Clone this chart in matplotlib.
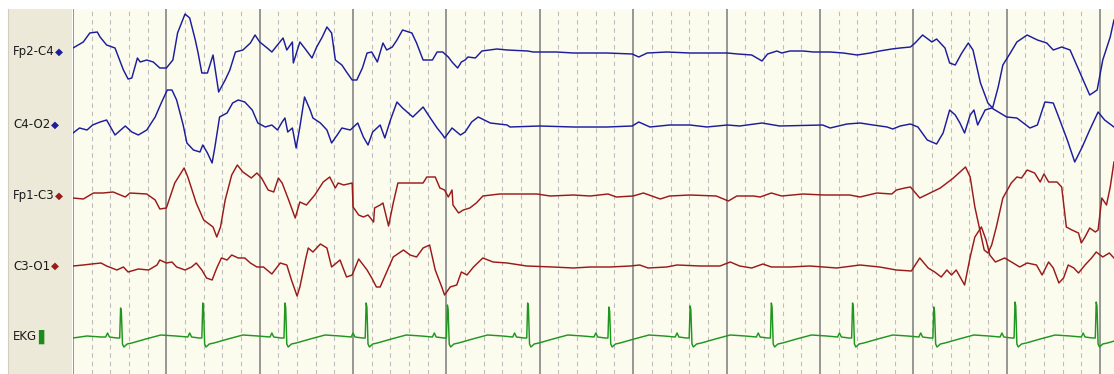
import matplotlib.pyplot as plt

# EEG page: 11.15 s shown, one solid line per second, dashed every 0.2 s
# times in seconds from page start, amplitudes in uV relative to the channel baseline
channels = ['Fp2-C4', 'C4-O2', 'Fp1-C3', 'C3-O1', 'EKG']

fp2_c4_t = [0.00, 0.11, 0.18, 0.26, 0.29, 0.36, 0.45, 0.54, 0.59, 0.63, 0.69, 0.72, 0.79, 0.86, 0.93,
            1.00, 1.07, 1.12, 1.20, 1.25, 1.31, 1.34, 1.38, 1.44, 1.50, 1.56, 1.63, 1.68, 1.74, 1.82,
            1.90, 1.95, 2.00, 2.08, 2.13, 2.19, 2.25, 2.29, 2.35, 2.36, 2.43, 2.48, 2.56, 2.61, 2.67,
            2.72, 2.77, 2.81, 2.88, 2.93, 2.99, 3.04, 3.10, 3.15, 3.20, 3.26, 3.32, 3.36, 3.42, 3.47,
            3.53, 3.63, 3.68, 3.75, 3.85, 3.90, 3.96, 4.02, 4.06, 4.12, 4.16, 4.20, 4.23, 4.31, 4.38,
            4.54, 4.65, 4.87, 4.93, 5.18, 5.36, 5.72, 5.99, 6.06, 6.15, 6.36, 6.61, 6.79, 7.01, 7.12,
            7.27, 7.38, 7.44, 7.54, 7.59, 7.68, 7.82, 7.93, 8.11, 8.25, 8.40, 8.54, 8.64, 8.77, 8.86,
            8.97, 9.02, 9.10, 9.20, 9.25, 9.34, 9.39, 9.45, 9.52, 9.59, 9.64, 9.72, 9.80, 9.85, 9.91,
            9.96, 10.04, 10.11, 10.22, 10.33, 10.43, 10.50, 10.59, 10.68, 10.76, 10.82, 10.89, 10.97,
            11.03, 11.11, 11.15]
fp2_c4_v = [4, 10, 19, 20, 15, 7, 4, -18, -27, -26, -6, -10, -8, -10, -16,
            -16, -8, 19, 38, 34, 12, -1, -21, -21, -3, -40, -28, -18, 0, 2,
            9, 17, 10, 4, 0, 7, 14, 2, 10, -11, 10, 4, -6, 5, 15,
            25, 19, -8, -13, -20, -28, -28, -16, -1, 0, -10, 9, 2, 5, 12,
            22, 19, 9, -8, -8, 0, 0, -5, -10, -16, -10, -8, -5, -6, 1,
            3, 2, 1, 0, 0, -1, -1, -2, -5, -1, 0, -1, -1, -1, -2,
            -3, -9, -2, 1, -1, 1, 1, 0, 0, -1, -3, -1, 1, 3, 4,
            5, 9, 17, 10, 13, 4, -11, -13, -1, 9, 2, -31, -51, -56, -35,
            -13, -1, 10, 17, 12, 9, 2, 5, 2, -15, -28, -43, -38,
            -8, 15, 32]

c4_o2_t = [0.00, 0.07, 0.15, 0.21, 0.29, 0.36, 0.45, 0.56, 0.63, 0.70, 0.79, 0.88, 0.95, 1.01, 1.06,
           1.11, 1.18, 1.22, 1.29, 1.36, 1.39, 1.44, 1.49, 1.52, 1.57, 1.65, 1.71, 1.77, 1.84, 1.92,
           1.98, 2.06, 2.13, 2.19, 2.24, 2.27, 2.30, 2.35, 2.39, 2.43, 2.48, 2.54, 2.57, 2.65, 2.72,
           2.77, 2.83, 2.88, 2.97, 3.05, 3.11, 3.16, 3.21, 3.29, 3.34, 3.40, 3.47, 3.53, 3.64, 3.75,
           3.82, 3.90, 3.96, 3.98, 4.06, 4.15, 4.20, 4.27, 4.34, 4.47, 4.65, 4.68, 5.00, 5.36, 5.72,
           5.99, 6.06, 6.18, 6.39, 6.61, 6.79, 7.01, 7.14, 7.38, 7.57, 8.03, 8.11, 8.29, 8.43, 8.57,
           8.72, 8.78, 8.86, 8.97, 9.05, 9.15, 9.25, 9.32, 9.39, 9.45, 9.50, 9.55, 9.61, 9.65, 9.69,
           9.77, 9.84, 9.93, 10.00, 10.11, 10.25, 10.33, 10.41, 10.50, 10.57, 10.65, 10.73, 10.81,
           10.89, 10.98, 11.05, 11.15]
c4_o2_v = [-8, -3, -5, 0, 3, 5, -10, -1, -7, -10, -5, 8, 23, 35, 35,
           25, 0, -18, -25, -27, -20, -28, -38, -22, 8, 12, 22, 25, 23, 15,
           2, -2, 0, -5, 3, 7, -7, -3, -23, -2, 28, 15, 7, 2, -5,
           -18, -10, -3, -5, 2, -12, -20, -7, 0, -13, 5, 23, 17, 8, 18,
           8, -3, -10, -13, -3, -10, -7, 3, 8, 2, 0, -2, -1, -2, -2,
           -1, 3, -2, 0, 0, -2, 0, -1, 2, -1, 0, -3, 1, 2, 0,
           -2, -4, -1, 1, -2, -15, -19, -8, 15, 10, 2, -8, 10, 15, 0,
           15, 17, 12, 8, 7, -3, 0, 23, 22, 5, -15, -37, -22,
           -5, 13, 5, -2]

fp1_c3_t = [0.00, 0.11, 0.22, 0.32, 0.43, 0.56, 0.61, 0.79, 0.88, 0.93, 1.00, 1.09, 1.19, 1.23, 1.32,
            1.40, 1.50, 1.54, 1.58, 1.63, 1.70, 1.76, 1.82, 1.91, 1.97, 2.02, 2.09, 2.15, 2.20, 2.24,
            2.31, 2.38, 2.43, 2.50, 2.59, 2.68, 2.75, 2.81, 2.84, 2.90, 2.99, 3.00, 3.06, 3.11, 3.16,
            3.22, 3.23, 3.29, 3.32, 3.38, 3.43, 3.48, 3.59, 3.65, 3.75, 3.79, 3.88, 3.93, 3.98, 4.02,
            4.06, 4.07, 4.13, 4.18, 4.25, 4.32, 4.39, 4.57, 4.79, 4.97, 5.11, 5.36, 5.54, 5.73, 5.82,
            6.00, 6.11, 6.29, 6.39, 6.61, 6.89, 7.02, 7.11, 7.29, 7.36, 7.48, 7.59, 7.82, 8.04, 8.32,
            8.43, 8.61, 8.77, 8.82, 8.91, 8.97, 9.07, 9.18, 9.29, 9.36, 9.43, 9.50, 9.56, 9.61, 9.66,
            9.72, 9.76, 9.80, 9.84, 9.89, 9.96, 10.05, 10.11, 10.16, 10.22, 10.30, 10.36, 10.40, 10.45,
            10.54, 10.59, 10.64, 10.70, 10.77, 10.80, 10.84, 10.89, 10.95, 10.98, 11.02, 11.07, 11.11,
            11.15]
fp1_c3_v = [-2, -3, 3, 3, 4, -1, 3, 2, -4, -13, -12, 13, 28, 19, -7,
            -24, -31, -41, -31, -4, 21, 31, 24, 18, 23, 18, 6, 4, 18, 13,
            -4, -22, -6, -9, 1, 14, 19, 8, 13, 11, 13, -11, -19, -21, -19,
            -26, -12, -9, -7, -30, -7, 13, 13, 13, 13, 19, 19, 8, 6, -1,
            6, -9, -17, -14, -12, -7, 0, 2, 2, 2, 0, 1, 0, 2, -1,
            0, 3, -3, 0, 1, 0, -5, 0, 0, -1, 3, 0, 2, 1, 1,
            -1, 3, 2, 6, 8, 9, -2, 3, 8, 13, 18, 24, 29, 19, -11,
            -37, -54, -57, -49, -31, -2, 13, 19, 18, 26, 23, 14, 22, 14,
            14, 9, -31, -34, -37, -47, -41, -32, -36, -34, -2, -9, 9,
            34]

c3_o1_t = [0.00, 0.11, 0.20, 0.30, 0.36, 0.47, 0.54, 0.59, 0.70, 0.81, 0.90, 0.93, 1.00, 1.06, 1.11,
           1.20, 1.27, 1.32, 1.38, 1.43, 1.49, 1.54, 1.59, 1.65, 1.70, 1.77, 1.84, 1.90, 1.97, 2.04,
           2.13, 2.22, 2.29, 2.34, 2.40, 2.43, 2.49, 2.52, 2.57, 2.65, 2.72, 2.77, 2.86, 2.93, 2.99,
           3.06, 3.15, 3.20, 3.25, 3.29, 3.36, 3.43, 3.54, 3.61, 3.68, 3.75, 3.82, 3.88, 3.95, 3.98,
           4.04, 4.11, 4.16, 4.22, 4.29, 4.39, 4.50, 4.65, 4.86, 5.14, 5.36, 5.54, 5.75, 5.97, 6.07,
           6.16, 6.36, 6.47, 6.72, 6.93, 7.04, 7.14, 7.27, 7.39, 7.48, 7.68, 7.89, 8.04, 8.18, 8.43,
           8.64, 8.82, 8.98, 9.07, 9.16, 9.23, 9.30, 9.36, 9.41, 9.46, 9.55, 9.61, 9.66, 9.73, 9.78,
           9.82, 9.88, 9.98, 10.07, 10.14, 10.22, 10.32, 10.38, 10.45, 10.50, 10.56, 10.61, 10.66,
           10.72, 10.77, 10.84, 10.91, 10.96, 11.03, 11.10, 11.15]
c3_o1_v = [0, 1, 2, 3, 0, -4, -1, -6, -3, -4, 1, 6, 3, 4, -1,
           -4, -1, 3, -4, -12, -14, -2, 8, 6, 11, 8, 8, 3, -1, -1,
           -8, 3, 1, -14, -30, -21, 6, 18, 14, 22, 18, -1, 6, -11, -9,
           7, -4, -12, -21, -21, -6, 9, 16, 11, 9, 18, 21, -4, -21, -29,
           -21, -19, -6, -9, -1, 8, 4, 3, 0, -1, -2, -1, -1, 0, 1,
           -2, -1, 1, 0, 0, 4, 0, -2, 2, -1, -1, 0, -1, -2, 1,
           -1, -4, -5, 8, -2, -6, -11, -4, -9, -4, -19, 9, 29, 39, 26,
           11, 4, 8, 3, -1, 3, 1, -9, 4, -2, -17, -12, 1,
           -2, -7, 1, 8, 14, 9, 13, 8]

# EKG: R-peak times / heights, and one beat shape around the R peak
ekg_r_t = [0.51, 1.39, 2.27, 3.14, 4.01, 4.87, 5.74, 6.61, 7.48, 8.35, 9.22, 10.09, 10.96]
ekg_r_amp = [29, 34, 34, 34, 32, 34, 30, 31, 34, 34, 30, 35, 35]
ekg_lead_t = [0.00, 0.15, 0.30]
ekg_lead_v = [-1, 1, 0]
ekg_pre_dt = [-0.16, -0.14, -0.12, -0.04, -0.01]
ekg_pre_v = [0, 4, 0, -1, -1]
ekg_post_dt = [0.02, 0.035, 0.07, 0.12, 0.27, 0.43, 0.59]
ekg_post_v = [-7, -10, -7, -6, -2, 2, 1]

ekg_t, ekg_v = list(ekg_lead_t), list(ekg_lead_v)
for r, a in zip(ekg_r_t, ekg_r_amp):
    ekg_t += [r + d for d in ekg_pre_dt] + [r, r + 0.008] + [r + d for d in ekg_post_dt]
    ekg_v += ekg_pre_v + [a, a - 4] + ekg_post_v

traces = [(fp2_c4_t, fp2_c4_v), (c4_o2_t, c4_o2_v), (fp1_c3_t, fp1_c3_v),
          (c3_o1_t, c3_o1_v), (ekg_t, ekg_v)]
colors = ['#1c1c9c', '#1c1c9c', '#9a1a1a', '#9a1a1a', '#1f961f']
baselines = [52, 125, 196, 266, 337]   # pixel rows of the channel baselines
W, H = 1114, 374

fig = plt.figure(figsize=(W / 100, H / 100), dpi=100)
fig.patch.set_facecolor('white')

# label panel
lab = fig.add_axes([8 / W, 0, 64 / W, (H - 9) / H])
lab.set_facecolor('#ece9d8')
lab.set_xlim(8, 72)
lab.set_ylim(H, 9)
lab.set_xticks([]); lab.set_yticks([])
for s in lab.spines.values():
    s.set_visible(False)
lab.spines['left'].set_visible(True)
lab.spines['left'].set_color('#d0cec0')

# trace area
ax = fig.add_axes([73 / W, 0, (W - 73) / W, (H - 9) / H])
ax.set_facecolor('#fcfcee')
ax.set_xlim(0, (W - 73) / 93.36)
ax.set_ylim(H, 9)
ax.set_xticks([]); ax.set_yticks([])
for s in ax.spines.values():
    s.set_visible(False)

for k in range(56):
    t = k * 0.2
    if k % 5 == 0:
        ax.axvline(t, color='#8e8e8e', lw=1.3, zorder=1)
    else:
        ax.axvline(t, color='#bdbdbd', lw=0.8, ls=(0, (4, 3.5)), zorder=1)

for (t, v), c, b in zip(traces, colors, baselines):
    ax.plot(t, [b - x for x in v], color=c, lw=1.05, zorder=3)

for name, c, b in zip(channels, colors, baselines):
    txt = lab.text(13, b, name, fontsize=8.5, color='#1a1a1a', va='center', ha='left',
                   family='DejaVu Sans')
    if name == 'EKG':
        lab.annotate('\u258c', xy=(1, 0.5), xycoords=txt, xytext=(0.5, 0),
                     textcoords='offset points', va='center', ha='left',
                     fontsize=10, color='#1a8c1a')
    else:
        lab.annotate('\u25c6', xy=(1, 0.5), xycoords=txt, xytext=(0.5, 0),
                     textcoords='offset points', va='center', ha='left',
                     fontsize=7.5, color=c)

fig.savefig('out.png', dpi=100)
